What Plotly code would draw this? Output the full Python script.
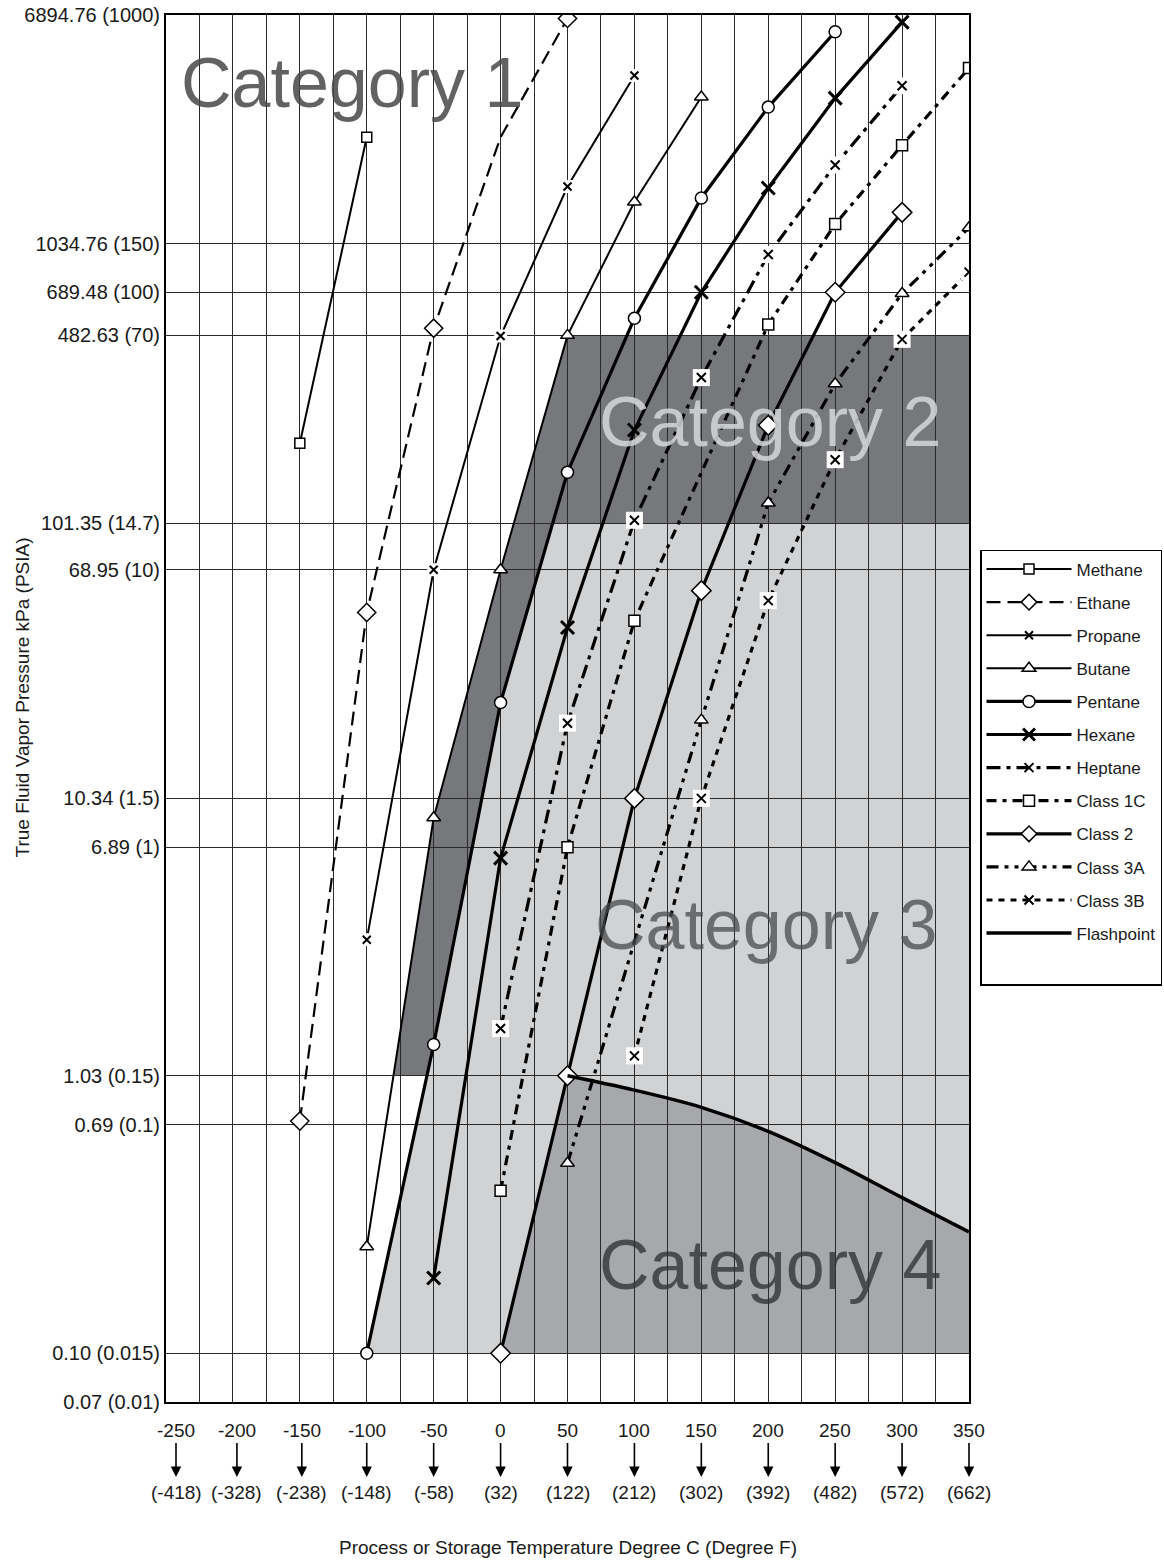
import math
import plotly.graph_objects as go

# values: temperature in deg C, true vapour pressure in kPa
METHANE_T = [-150, -100]
METHANE_P = [197, 2500]

ETHANE_T = [-150, -100, -50, 0, 50]
ETHANE_P = [0.71, 48.4, 512, 2500, 6700]
ETHANE_MARKED = [True, True, True, False, True]

PROPANE_T = [-100, -50, 0, 50, 100]
PROPANE_P = [3.2, 69, 480, 1660, 4170]

BUTANE_T = [-100, -50, 0, 50, 100, 150]
BUTANE_P = [0.25, 8.8, 69, 482.63, 1460, 3490]

PENTANE_T = [-100, -50, 0, 50, 100, 150, 200, 250]
PENTANE_P = [0.1034, 1.34, 22.9, 155, 556, 1510, 3210, 6000]

HEXANE_T = [-50, 0, 50, 100, 150, 200, 250, 300]
HEXANE_P = [0.193, 6.3, 42.7, 220, 690, 1640, 3460, 6500]

HEPTANE_T = [0, 50, 100, 150, 200, 250, 300]
HEPTANE_P = [1.53, 19.3, 104, 340, 944, 1985, 3830]

CLASS_1C_T = [0, 50, 100, 200, 250, 300, 350]
CLASS_1C_P = [0.398, 6.89, 45.2, 528, 1216, 2340, 4440]

CLASS_2_T = [0, 50, 100, 150, 200, 250, 300]
CLASS_2_P = [0.1034, 1.034, 10.34, 58, 229, 690, 1340]

CLASS_3A_T = [50, 150, 200, 250, 300, 350]
CLASS_3A_P = [0.50, 19.8, 120, 323, 683, 1180]

CLASS_3B_T = [100, 150, 200, 250, 300, 350]
CLASS_3B_P = [1.22, 10.34, 53.4, 172, 467, 816]

FLASH_T = [50, 100, 150, 200, 250, 300, 350]
FLASH_P = [1.034, 0.918, 0.796, 0.652, 0.503, 0.376, 0.283]

# category boundaries (kPa) and chart edges (deg C)
CAT1_BOTTOM = 482.63
CAT2_BOTTOM = 101.35
CAT3_BAND_BOTTOM = 1.034
CAT_FLOOR = 0.1034
T_MAX = 350
T_MIN = -250

Y_MIN = 0.06895
Y_MAX = 6894.76
Y_TICK_KPA = [6894.76, 1034.21, 689.48, 482.63, 101.35, 68.95, 10.34, 6.895, 1.034, 0.6895, 0.1034, 0.06895]
Y_TICK_TEXT = ["6894.76 (1000)", "1034.76 (150)", "689.48 (100)", "482.63 (70)", "101.35 (14.7)",
               "68.95 (10)", "10.34 (1.5)", "6.89 (1)", "1.03 (0.15)", "0.69 (0.1)",
               "0.10 (0.015)", "0.07 (0.01)"]

X_TICK_C = [-250, -200, -150, -100, -50, 0, 50, 100, 150, 200, 250, 300, 350]
X_TICK_F = ["(-418)", "(-328)", "(-238)", "(-148)", "(-58)", "(32)", "(122)", "(212)",
            "(302)", "(392)", "(482)", "(572)", "(662)"]

FONT = "Liberation Sans, Arial, sans-serif"
TEXT = "#1a1a1a"
GRID = "#2a2a2a"
DARK = "#77787c"
LIGHT = "#d1d2d4"
MID = "#a7a8ab"


def cross_at(ts, ps, level):
    # temperature where a series passes a pressure level (straight in log space)
    lv = math.log10(level)
    for i in range(len(ts) - 1):
        a, b = math.log10(ps[i]), math.log10(ps[i + 1])
        if (a - lv) * (b - lv) <= 0 and a != b:
            return ts[i] + (ts[i + 1] - ts[i]) * (lv - a) / (b - a)
    return None


def to_path(points):
    return "M " + " L ".join(f"{t},{p}" for t, p in points) + " Z"


fig = go.Figure()

# ---- shaded categories (drawn under the grid) ----
t_p_mid = cross_at(PENTANE_T, PENTANE_P, CAT2_BOTTOM)
t_p_low = cross_at(PENTANE_T, PENTANE_P, CAT3_BAND_BOTTOM)
t_b_low = cross_at(BUTANE_T, BUTANE_P, CAT3_BAND_BOTTOM)

light = [(t_p_mid, CAT2_BOTTOM), (T_MAX, CAT2_BOTTOM), (T_MAX, CAT_FLOOR)]
light += [(t, p) for t, p in zip(PENTANE_T, PENTANE_P) if p < CAT2_BOTTOM]

cat4 = [(CLASS_2_T[0], CLASS_2_P[0])] + list(zip(FLASH_T, FLASH_P)) + [(T_MAX, CAT_FLOOR)]

dark = [(T_MAX, CAT1_BOTTOM), (T_MAX, CAT2_BOTTOM), (t_p_mid, CAT2_BOTTOM)]
dark += [(t, p) for t, p in reversed(list(zip(PENTANE_T, PENTANE_P))) if CAT3_BAND_BOTTOM < p < CAT2_BOTTOM]
dark += [(t_p_low, CAT3_BAND_BOTTOM), (t_b_low, CAT3_BAND_BOTTOM)]
dark += [(t, p) for t, p in zip(BUTANE_T, BUTANE_P) if CAT3_BAND_BOTTOM < p <= CAT1_BOTTOM]

for pts, col in [(light, LIGHT), (cat4, MID), (dark, DARK)]:
    fig.add_shape(type="path", path=to_path(pts), xref="x", yref="y",
                  fillcolor=col, line=dict(width=0), layer="below")


# ---- series ----
def add_series(name, ts, ps, dash, width, symbol, size, box=0, mline=1.5, marked=None, shape="linear"):
    fig.add_trace(go.Scatter(x=ts, y=ps, mode="lines", showlegend=False, hoverinfo="skip",
                             line=dict(color="black", width=width, dash=dash, shape=shape)))
    if marked is None:
        mt, mp = ts, ps
    else:
        mt = [t for t, m in zip(ts, marked) if m]
        mp = [p for p, m in zip(ps, marked) if m]
    if box:
        fig.add_trace(go.Scatter(x=mt, y=mp, mode="markers", showlegend=False, hoverinfo="skip",
                                 marker=dict(symbol="square", size=box, color="white", line=dict(width=0))))
    if symbol:
        fig.add_trace(go.Scatter(x=mt, y=mp, mode="markers", showlegend=False, name=name,
                                 marker=dict(symbol=symbol, size=size, color="white",
                                             line=dict(color="black", width=mline))))
    # legend entry
    fig.add_trace(go.Scatter(x=[None], y=[None], mode="lines+markers" if symbol else "lines",
                             name=name, legendgroup=name,
                             line=dict(color="black", width=width, dash=dash),
                             marker=dict(symbol=symbol or "circle", size=min(size, 12), color="white",
                                         line=dict(color="black", width=mline))))


add_series("Methane", METHANE_T, METHANE_P, "solid", 2, "square", 10)
add_series("Ethane", ETHANE_T, ETHANE_P, "14px,7px", 2.2, "diamond", 14, marked=ETHANE_MARKED)
add_series("Propane", PROPANE_T, PROPANE_P, "solid", 2, "x-thin", 8, box=13, mline=2)
add_series("Butane", BUTANE_T, BUTANE_P, "solid", 2, "triangle-up", 12)
add_series("Pentane", PENTANE_T, PENTANE_P, "solid", 3.2, "circle", 12)
add_series("Hexane", HEXANE_T, HEXANE_P, "solid", 3.2, "x-thin", 13, mline=3)
add_series("Heptane", HEPTANE_T, HEPTANE_P, "14px,6px,4px,6px", 3.2, "x-thin", 9, box=17, mline=2)
add_series("Class 1C", CLASS_1C_T, CLASS_1C_P, "10px,6px,4px,6px", 3.2, "square", 11)
add_series("Class 2", CLASS_2_T, CLASS_2_P, "solid", 3.2, "diamond", 15)
add_series("Class 3A", CLASS_3A_T, CLASS_3A_P, "12px,6px,4px,6px,4px,6px", 3.2, "triangle-up", 12)
add_series("Class 3B", CLASS_3B_T, CLASS_3B_P, "6px,6px", 3.2, "x-thin", 9, box=17, mline=2)
add_series("Flashpoint", FLASH_T, FLASH_P, "solid", 3.5, None, 0, shape="spline")

# spacer so the legend box keeps some room under the last entry
fig.add_trace(go.Scatter(x=[None], y=[None], mode="lines", name=" ", legendgroup="zz",
                         line=dict(color="rgba(0,0,0,0)")))

# ---- category labels ----
CATEGORY_LABELS = [
    ("Category 1", 0.2316, 0.951, "rgba(70,70,70,0.85)"),
    ("Category 2", 0.752, 0.7066, "rgba(214,215,217,0.85)"),
    ("Category 3", 0.747, 0.344, "rgba(72,73,75,0.75)"),
    ("Category 4", 0.752, 0.0988, "rgba(50,51,53,0.8)"),
]
for txt, px_, py_, col in CATEGORY_LABELS:
    fig.add_annotation(x=px_, y=py_, xref="paper", yref="paper", text=txt, showarrow=False,
                       xanchor="center", yanchor="middle",
                       font=dict(family=FONT, size=70, color=col))

# ---- temperature labels with arrows ----
X_LABEL_SHIFT = {-250: 10, -200: 4, -150: 2}
for c, f in zip(X_TICK_C, X_TICK_F):
    s = X_LABEL_SHIFT.get(c, 0)
    fig.add_annotation(x=c, xref="x", y=-0.054, yref="paper", text=str(c), showarrow=True,
                       ax=0, ay=-46, arrowhead=2, arrowsize=1.3, arrowwidth=1.6,
                       arrowcolor="black", xshift=s, font=dict(family=FONT, size=19, color=TEXT))
    fig.add_annotation(x=c, xref="x", y=-0.0656, yref="paper", text=f, showarrow=False,
                       xshift=s, xanchor="center", yanchor="middle",
                       font=dict(family=FONT, size=19, color=TEXT))

fig.add_annotation(x=0.5, xref="paper", y=-0.1046, yref="paper", showarrow=False,
                   xanchor="center", yanchor="middle",
                   text="Process or Storage Temperature Degree C (Degree F)",
                   font=dict(family=FONT, size=19, color=TEXT))
fig.add_annotation(x=-0.1793, xref="paper", y=0.508, yref="paper", showarrow=False, textangle=-90,
                   xanchor="center", yanchor="middle",
                   text="True Fluid Vapor Pressure kPa (PSIA)",
                   font=dict(family=FONT, size=19, color=TEXT))

fig.update_xaxes(range=[T_MIN, T_MAX], tick0=0, dtick=25, showgrid=True, gridcolor=GRID, gridwidth=1,
                 showticklabels=False, ticks="", zeroline=False,
                 showline=True, linecolor="black", linewidth=2, mirror=True)
fig.update_yaxes(type="log", range=[math.log10(Y_MIN), math.log10(Y_MAX)],
                 tickmode="array", tickvals=Y_TICK_KPA, ticktext=Y_TICK_TEXT,
                 showgrid=True, gridcolor=GRID, gridwidth=1, ticks="", zeroline=False,
                 showline=True, linecolor="black", linewidth=2, mirror=True,
                 tickfont=dict(family=FONT, size=20, color=TEXT))

fig.update_layout(
    width=1164, height=1562,
    margin=dict(l=166, r=195, t=15, b=160, autoexpand=False),
    paper_bgcolor="white", plot_bgcolor="white",
    font=dict(family=FONT, size=19, color=TEXT),
    showlegend=True,
    legend=dict(x=1.0137, xanchor="left", y=0.6143, yanchor="top", bgcolor="white",
                bordercolor="black", borderwidth=1.5, font=dict(family=FONT, size=17, color=TEXT),
                tracegroupgap=8, itemwidth=85),
)

# drop the default page margin so the figure sits at the top-left corner
fig.write_html("out.html", config={"displayModeBar": False},
               post_script="document.body.style.margin = '0';")
